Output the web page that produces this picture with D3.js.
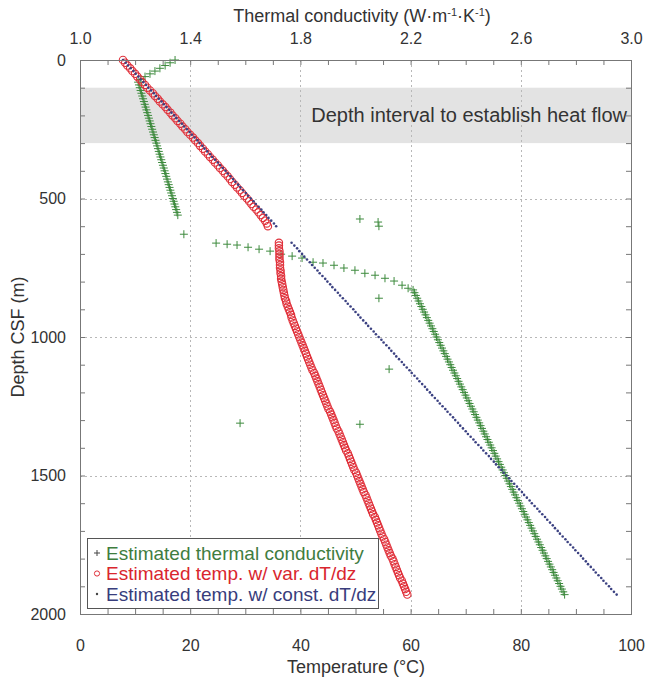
<!DOCTYPE html>
<html><head><meta charset="utf-8">
<script src="https://cdn.jsdelivr.net/npm/d3@7"></script>
<style>
body{margin:0;background:#fff;}
text{font-family:"Liberation Sans",Arial,sans-serif;fill:#333;}
</style>
</head><body>
<svg id="chart" width="652" height="682"></svg>
<script>
// ---- tick labels ----
const tempTicks = [0, 20, 40, 60, 80, 100];
const condTicks = [1.0, 1.4, 1.8, 2.2, 2.6, 3.0];
const depthTicks = [0, 500, 1000, 1500, 2000];

// ---- depth samples (m) ----
const depthA = [0,10,20,30,40,50,60,70,80,90,100,110,120,130,140,150,160,170,180,190,200,210,220,230,240,250,260,270,280,290,300,310,320,330,340,350,360,370,380,390,400,410,420,430,440,450,460,470,480,490,500,510,520,530,540,550,560,570,580,590,600];
const depthB = [660,670,680,690,700,710,720,730,740,750,760,770,780,790,800,810,820,830,840,850,860,870,880,890,900,910,920,930,940,950,960,970,980,990,1000,1010,1020,1030,1040,1050,1060,1070,1080,1090,1100,1110,1120,1130,1140,1150,1160,1170,1180,1190,1200,1210,1220,1230,1240,1250,1260,1270,1280,1290,1300,1310,1320,1330,1340,1350,1360,1370,1380,1390,1400,1410,1420,1430,1440,1450,1460,1470,1480,1490,1500,1510,1520,1530,1540,1550,1560,1570,1580,1590,1600,1610,1620,1630,1640,1650,1660,1670,1680,1690,1700,1710,1720,1730,1740,1750,1760,1770,1780,1790,1800,1810,1820,1830,1840,1850,1860,1870,1880,1890,1900,1910,1920,1930];

// ---- Estimated temp. w/ var. dT/dz (°C) ----
const redTempA = [7.8,8.2,8.6,9.1,9.5,10.0,10.4,10.9,11.3,11.8,12.2,
12.7,13.2,13.6,14.1,14.5,15.0,15.5,15.9,16.4,16.8,
17.3,17.7,18.2,18.6,19.1,19.5,20.0,20.5,20.9,21.4,
21.8,22.3,22.7,23.2,23.6,24.1,24.5,25.0,25.4,25.9,
26.3,26.8,27.2,27.6,28.1,28.5,29.0,29.4,29.8,30.3,
30.7,31.1,31.5,32.0,32.4,32.8,33.2,33.6,33.9,34.1];
const redTempB = [36.1,36.1,36.1,36.2,36.2,36.2,36.2,36.3,36.3,36.3,
36.4,36.4,36.5,36.5,36.6,36.7,36.8,36.9,37.0,37.1,
37.2,37.4,37.5,37.7,37.9,38.1,38.3,38.4,38.6,38.8,
39.0,39.2,39.4,39.6,39.8,40.0,40.2,40.4,40.6,40.8,
41.0,41.2,41.4,41.6,41.8,42.0,42.2,42.5,42.7,42.9,
43.1,43.3,43.5,43.7,43.9,44.1,44.3,44.5,44.7,44.9,
45.1,45.4,45.6,45.8,46.0,46.2,46.4,46.6,46.9,47.1,
47.3,47.5,47.7,47.9,48.1,48.3,48.6,48.8,49.0,49.2,
49.4,49.6,49.8,50.1,50.3,50.5,50.7,50.9,51.1,51.3,
51.5,51.8,52.0,52.2,52.4,52.6,52.8,53.0,53.2,53.5,
53.7,53.9,54.1,54.3,54.5,54.7,54.9,55.2,55.4,55.6,
55.8,56.0,56.2,56.4,56.7,56.9,57.1,57.3,57.5,57.7,
57.9,58.1,58.4,58.6,58.8,59.0,59.2,59.4];

// ---- Estimated temp. w/ const. dT/dz (°C) ----
const blueTempA = [7.8,8.3,8.7,9.2,9.7,10.1,10.6,11.0,11.5,12.0,12.4,12.9,13.4,13.8,14.3,14.8,15.2,15.7,16.2,16.6,17.1,17.5,18.0,18.5,18.9,19.4,19.9,20.3,20.8,21.3,21.7,22.2,22.6,23.1,23.6,24.0,24.5,25.0,25.4,25.9,26.4,26.8,27.3,27.8,28.2,28.7,29.1,29.6,30.1,30.5,31.0,31.5,31.9,32.4,32.9,33.3,33.8,34.2,34.7,35.2,35.6];
const blueTempB = [38.4,38.9,39.4,39.8,40.3,40.7,41.2,41.7,42.1,42.6,
43.1,43.5,44.0,44.5,44.9,45.4,45.8,46.3,46.8,47.2,
47.7,48.2,48.6,49.1,49.6,50.0,50.5,50.9,51.4,51.9,
52.3,52.8,53.3,53.7,54.2,54.7,55.1,55.6,56.1,56.5,
57.0,57.4,57.9,58.4,58.8,59.3,59.8,60.2,60.7,61.2,
61.6,62.1,62.6,63.0,63.5,63.9,64.4,64.9,65.3,65.8,
66.3,66.7,67.2,67.7,68.1,68.6,69.0,69.5,70.0,70.4,
70.9,71.4,71.8,72.3,72.8,73.2,73.7,74.2,74.6,75.1,
75.5,76.0,76.5,76.9,77.4,77.9,78.3,78.8,79.3,79.7,
80.2,80.6,81.1,81.6,82.0,82.5,83.0,83.4,83.9,84.4,
84.8,85.3,85.8,86.2,86.7,87.1,87.6,88.1,88.5,89.0,
89.5,89.9,90.4,90.9,91.3,91.8,92.2,92.7,93.2,93.6,
94.1,94.6,95.0,95.5,96.0,96.4,96.9,97.4];

// ---- Estimated thermal conductivity (W/m/K) ----
const greenCondA = [1.345,1.327,1.309,1.290,1.272,1.254,1.236,1.221,1.211,1.214,1.217,1.220,1.223,1.226,1.229,1.232,1.235,1.238,1.241,1.244,1.247,1.250,1.253,1.256,1.259,1.262,1.265,1.268,1.271,1.274,1.277,1.280,1.283,1.286,1.289,1.292,1.295,1.298,1.301,1.304,1.307,1.310,1.313,1.316,1.319,1.322,1.325,1.328,1.331,1.334,1.337,1.340,1.343,1.346,1.349,1.352,1.355];
const greenCondB = [2.209,2.214,2.219,2.224,2.229,2.234,2.239,2.244,2.249,2.254,
2.259,2.264,2.269,2.274,2.279,2.284,2.289,2.294,2.299,2.304,
2.309,2.314,2.319,2.324,2.329,2.334,2.339,2.344,2.349,2.354,
2.359,2.364,2.369,2.374,2.379,2.384,2.389,2.394,2.399,2.404,
2.409,2.414,2.419,2.424,2.429,2.434,2.439,2.444,2.449,2.454,
2.459,2.464,2.469,2.474,2.479,2.484,2.489,2.494,2.499,2.504,
2.509,2.514,2.519,2.524,2.529,2.534,2.539,2.544,2.549,2.554,
2.559,2.564,2.569,2.574,2.579,2.584,2.589,2.594,2.599,2.604,
2.609,2.614,2.619,2.624,2.629,2.634,2.639,2.644,2.649,2.654,
2.659,2.664,2.669,2.674,2.679,2.684,2.689,2.694,2.699,2.704,
2.709,2.714,2.719,2.724,2.729,2.734,2.739,2.744,2.749,2.754,
2.759];
const greenScatterDepth = [574,585,600,629,661,665,668,676,683,690,701,708,715,730,733,741,751,759,770,777,788,798,813,824,860,1116,1311,1315];
const greenScatterCond  = [2.016,2.082,2.085,1.377,1.494,1.534,1.570,1.610,1.650,1.690,1.730,1.770,1.806,1.846,1.882,1.922,1.958,1.998,2.034,2.071,2.107,2.140,2.169,2.191,2.085,2.122,1.581,2.016];

const band = [100, 300];
const bandLabel = "Depth interval to establish heat flow";
const legendLabels = ["Estimated thermal conductivity", "Estimated temp. w/ var. dT/dz", "Estimated temp. w/ const. dT/dz"];

// ---- styles ----
const C_GREEN = "#3d8a3d", C_RED = "#e0303a", C_BLUE = "#3c4282";
const C_GREEN_T = "#3f7d3f", C_RED_T = "#d9262e", C_BLUE_T = "#383d7c";

const svg = d3.select("#chart");
const L = 80, R = 631, T = 60, B = 614;
const x = d3.scaleLinear().domain([0, 100]).range([L, R]);
const xk = d3.scaleLinear().domain([1, 3]).range([L, R]);
const y = d3.scaleLinear().domain([0, 2000]).range([T, B]);

function pairs(ds, vs) {
  const n = Math.min(ds.length, vs.length), out = [];
  for (let i = 0; i < n; i++) if (vs[i] != null) out.push([ds[i], vs[i]]);
  return out;
}

// band
svg.append("rect").attr("x", L).attr("y", y(band[0])).attr("width", R - L)
  .attr("height", y(band[1]) - y(band[0])).attr("fill", "#e3e3e3");

// gridlines
const grid = svg.append("g").attr("stroke", "#b8b8b8").attr("stroke-dasharray", "2,3").attr("stroke-width", 1);
[20, 40, 60, 80].forEach(v => grid.append("line").attr("x1", Math.round(x(v)) + .5).attr("x2", Math.round(x(v)) + .5).attr("y1", T).attr("y2", B));
[500, 1000, 1500].forEach(v => grid.append("line").attr("y1", Math.round(y(v)) + .5).attr("y2", Math.round(y(v)) + .5).attr("x1", L).attr("x2", R));

svg.append("text").attr("x", 627).attr("y", (y(band[0]) + y(band[1])) / 2).attr("dy", "0.35em")
  .attr("text-anchor", "end").style("font-size", "20px").style("fill", "#333").text(bandLabel);

// data
const plus = "M-4,0H4M0,-4V4";
const gData = pairs(depthA, greenCondA).concat(pairs(depthB.slice(17), greenCondB), pairs(greenScatterDepth, greenScatterCond));
svg.append("g").selectAll("path").data(gData).join("path")
  .attr("d", plus).attr("transform", d => `translate(${xk(d[1])},${y(d[0])})`)
  .attr("stroke", C_GREEN).attr("stroke-width", 1).attr("fill", "none");

const rData = pairs(depthA, redTempA).concat(pairs(depthB, redTempB));
svg.append("g").selectAll("circle").data(rData).join("circle")
  .attr("cx", d => x(d[1])).attr("cy", d => y(d[0])).attr("r", 3.7)
  .attr("fill", "none").attr("stroke", C_RED).attr("stroke-width", 1.1);

const bData = pairs(depthA, blueTempA).concat(pairs(depthB, blueTempB));
svg.append("g").selectAll("circle").data(bData).join("circle")
  .attr("cx", d => x(d[1])).attr("cy", d => y(d[0])).attr("r", 1.3)
  .attr("fill", C_BLUE);

// axes
function styleAxis(g) {
  g.select(".domain").remove();
  g.selectAll(".tick line").attr("stroke", "#777");
  g.selectAll(".tick text").style("font-size", "16px").style("fill", "#333").attr("font-family", null);
}
const minorT = d3.range(0, 100.1, 5);
svg.append("g").attr("transform", `translate(0,${B})`)
  .call(d3.axisBottom(x).tickValues(minorT).tickSize(-5).tickPadding(26)
    .tickFormat(d => tempTicks.includes(d) ? d : ""))
  .call(styleAxis);
const minorK = d3.range(10, 30.1, 1).map(v => v / 10);
svg.append("g").attr("transform", `translate(0,${T})`)
  .call(d3.axisTop(xk).tickValues(minorK).tickSize(-5).tickPadding(16)
    .tickFormat(d => condTicks.some(c => Math.abs(c - d) < 1e-6) ? d.toFixed(1) : ""))
  .call(styleAxis);
const minorD = d3.range(0, 2001, 100);
svg.append("g").attr("transform", `translate(${L},0)`)
  .call(d3.axisLeft(y).tickValues(minorD).tickSize(-5).tickPadding(14)
    .tickFormat(d => depthTicks.includes(d) ? d : ""))
  .call(styleAxis);
svg.append("g").attr("transform", `translate(${R},0)`)
  .call(d3.axisRight(y).tickValues(minorD).tickSize(-5).tickFormat(""))
  .call(styleAxis);

svg.append("rect").attr("x", L + .5).attr("y", T + .5).attr("width", R - L).attr("height", B - T)
  .attr("fill", "none").attr("stroke", "#777").attr("stroke-width", 1);

// titles
const tt = svg.append("text").attr("x", 362).attr("y", 22).attr("text-anchor", "middle").style("font-size", "18px");
tt.append("tspan").text("Thermal conductivity (W·m");
tt.append("tspan").attr("dy", -6).style("font-size", "11px").text("-1");
tt.append("tspan").attr("dy", 6).text("·K");
tt.append("tspan").attr("dy", -6).style("font-size", "11px").text("-1");
tt.append("tspan").attr("dy", 6).text(")");

svg.append("text").attr("x", 356).attr("y", 673).attr("text-anchor", "middle").style("font-size", "18px").text("Temperature (°C)");
svg.append("text").attr("transform", `translate(24,${(T + B) / 2}) rotate(-90)`).attr("text-anchor", "middle").style("font-size", "18px").text("Depth CSF (m)");

// legend
const lg = svg.append("g");
lg.append("rect").attr("x", 87.5).attr("y", 538.5).attr("width", 291).attr("height", 70).attr("fill", "#fff").attr("stroke", "#555");
const lcol = [C_GREEN_T, C_RED_T, C_BLUE_T];
legendLabels.forEach((t, i) => {
  const yy = 553 + i * 20.5;
  if (i === 0) lg.append("path").attr("d", "M-3,0H3M0,-3V3").attr("transform", `translate(97,${yy})`).attr("stroke", "#444").attr("fill", "none");
  if (i === 1) lg.append("circle").attr("cx", 97).attr("cy", yy).attr("r", 2.6).attr("fill", "none").attr("stroke", C_RED);
  if (i === 2) lg.append("circle").attr("cx", 97).attr("cy", yy).attr("r", 1.2).attr("fill", "#444");
  lg.append("text").attr("x", 106).attr("y", yy).attr("dy", "0.35em").style("font-size", "19px").style("fill", lcol[i]).text(t);
});
</script>
</body></html>
